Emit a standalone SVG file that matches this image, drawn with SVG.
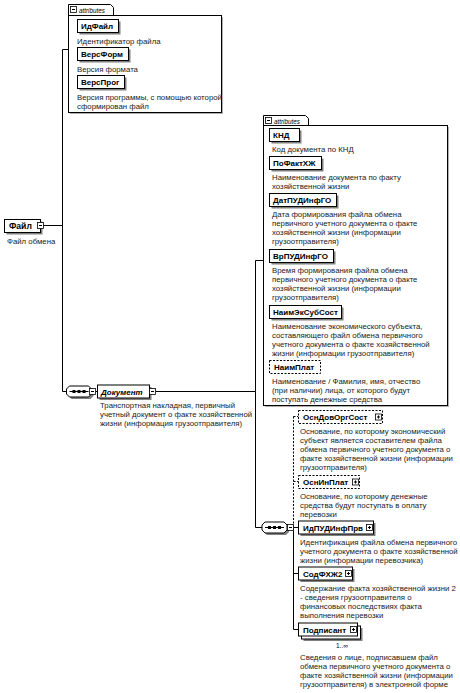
<svg xmlns="http://www.w3.org/2000/svg" width="460" height="693" viewBox="0 0 460 693">
<defs>
<style>
.d{font-family:"Liberation Sans",Arial,sans-serif;font-size:7.8px;fill:#222}
.b{font-family:"Liberation Sans",Arial,sans-serif;font-size:8px;font-weight:bold;fill:#000}
.bi{font-family:"Liberation Sans",Arial,sans-serif;font-size:8px;font-weight:bold;font-style:italic;fill:#000}
.t{font-family:"Liberation Sans",Arial,sans-serif;font-size:6.3px;font-style:italic;fill:#000}
.m{font-family:"Liberation Sans",Arial,sans-serif;font-size:6.5px;fill:#000}
.box{fill:#fff;stroke:#000;stroke-width:1}
.dbox{fill:#fff;stroke:#000;stroke-width:1;stroke-dasharray:2 1.5}
.sh{fill:#808080}
.ash{fill:#b0b0b0}
.ln{fill:none;stroke:#000;stroke-width:1}
.dl{fill:none;stroke:#000;stroke-width:1;stroke-dasharray:2 1.5}
.ic{fill:#fff;stroke:#000;stroke-width:0.8}
</style>
<g id="minus"><rect class="ic" x="0" y="0" width="6" height="6"/><path class="ln" stroke-width="0.8" d="M1.5,3H4.5"/></g>
<g id="plus"><rect class="ic" x="0" y="0" width="6" height="6"/><path class="ln" stroke-width="0.8" d="M1.5,3H4.5M3,1.5V4.5"/></g>
<g id="seq"><path class="sh" d="M5,2H24L27,5V10L24,13H5L2,10V5Z"/><path class="box" d="M3,0H22L25,3V8L22,11H3L0,8V3Z"/><path class="ln" d="M3,5.5H22"/><rect x="6" y="4" width="3" height="3" fill="#000"/><rect x="11" y="4" width="3" height="3" fill="#000"/><rect x="16" y="4" width="3" height="3" fill="#000"/></g>
</defs>
<rect width="460" height="693" fill="#fff"/>

<g id="connectors">
<path class="ln" d="M42.5,225.5H62.5M62.5,49.5H68.5M62.5,49.5V391.5H67"/>
<path class="ln" d="M95.5,391.5H97.5"/>
<path class="ln" d="M155.5,391.5H255.5V260.5H263.5M255.5,391.5V527.5H262"/>
<path class="dl" d="M293.5,416.5V527M293.5,416.5H298.5M293.5,481.5H298.5"/>
<path class="ln" d="M293.5,527V629.5M293.5,527.5H298.5M293.5,573.5H298.5M293.5,629.5H298.5"/>
</g>

<g id="node-fajl">
<rect class="sh" x="6.5" y="221.5" width="36" height="13"/>
<rect class="box" x="4.5" y="219.5" width="36" height="13"/>
<text class="b" x="9" y="229" style="font-size:8.6px">Файл</text>
<use href="#minus" x="37.5" y="222.5"/>
<text class="d" x="7" y="244">Файл обмена</text>
</g>

<g id="attrs-fajl">
<rect class="ash" x="70" y="17" width="153" height="97"/>
<path fill="#fff" stroke="#000" d="M68.5,15.5V4.5H110.5L113.5,7.5V15.5"/>
<rect class="box" x="68.5" y="15.5" width="153" height="97"/>
<use href="#minus" x="70.5" y="6.5"/>
<text class="t" x="79" y="13">attributes</text>
<g id="attr-IdFajl">
<rect class="sh" x="79.5" y="21.5" width="41" height="13"/><rect class="box" x="77.5" y="19.5" width="41" height="13"/>
<text class="b" x="81" y="29.2">ИдФайл</text>
<text class="d" x="77" y="44">Идентификатор файла</text>
</g>
<g id="attr-VersForm">
<rect class="sh" x="79.5" y="49.5" width="51" height="13"/><rect class="box" x="77.5" y="47.5" width="51" height="13"/>
<text class="b" x="81" y="57.2">ВерсФорм</text>
<text class="d" x="77" y="72">Версия формата</text>
</g>
<g id="attr-VersProg">
<rect class="sh" x="79.5" y="77.5" width="47" height="13"/><rect class="box" x="77.5" y="75.5" width="47" height="13"/>
<text class="b" x="81" y="85.2">ВерсПрог</text>
<text class="d" x="77" y="100">Версия программы, с помощью которой</text>
<text class="d" x="77" y="109">сформирован файл</text>
</g>
</g>

<g id="seq-fajl"><use href="#seq" x="66.5" y="386"/><use href="#minus" x="89.5" y="388.5"/></g>

<g id="node-dokument">
<rect class="sh" x="99.5" y="387" width="52" height="13"/>
<rect class="box" x="97.5" y="385" width="52" height="13"/>
<text class="bi" x="101" y="394.7">Документ</text>
<use href="#minus" x="149.5" y="388.5"/>
<text class="d" x="100" y="408">Транспортная накладная, первичный</text>
<text class="d" x="100" y="417">учетный документ о факте хозяйственной</text>
<text class="d" x="100" y="426">жизни (информация грузоотправителя)</text>
</g>

<g id="attrs-dokument">
<rect class="ash" x="265" y="127" width="184" height="280"/>
<path fill="#fff" stroke="#000" d="M263.5,125.5V115.5H305.5L308.5,118.5V125.5"/>
<rect class="box" x="263.5" y="125.5" width="184" height="280"/>
<use href="#minus" x="265.5" y="117.5"/>
<text class="t" x="274" y="124">attributes</text>
<g id="attr-KND">
<rect class="sh" x="271.5" y="130.5" width="30" height="13"/><rect class="box" x="269.5" y="128.5" width="30" height="13"/>
<text class="b" x="273" y="138.2">КНД</text>
<text class="d" x="272" y="152">Код документа по КНД</text>
</g>
<g id="attr-PoFaktXZh">
<rect class="sh" x="271.5" y="158.5" width="52" height="13"/><rect class="box" x="269.5" y="156.5" width="52" height="13"/>
<text class="b" x="273" y="166.2">ПоФактХЖ</text>
<text class="d" x="272" y="180">Наименование документа по факту</text>
<text class="d" x="272" y="189">хозяйственной жизни</text>
</g>
<g id="attr-DatPUDInfGO">
<rect class="sh" x="271.5" y="195.5" width="67" height="13"/><rect class="box" x="269.5" y="193.5" width="67" height="13"/>
<text class="b" x="273" y="203.2">ДатПУДИнфГО</text>
<text class="d" x="272" y="217">Дата формирования файла обмена</text>
<text class="d" x="272" y="226">первичного учетного документа о факте</text>
<text class="d" x="272" y="235">хозяйственной жизни (информации</text>
<text class="d" x="272" y="244">грузоотправителя)</text>
</g>
<g id="attr-VrPUDInfGO">
<rect class="sh" x="271.5" y="251.5" width="64" height="13"/><rect class="box" x="269.5" y="249.5" width="64" height="13"/>
<text class="b" x="273" y="259.2">ВрПУДИнфГО</text>
<text class="d" x="272" y="273">Время формирования файла обмена</text>
<text class="d" x="272" y="282">первичного учетного документа о факте</text>
<text class="d" x="272" y="291">хозяйственной жизни (информации</text>
<text class="d" x="272" y="300">грузоотправителя)</text>
</g>
<g id="attr-NaimEkSubSost">
<rect class="sh" x="271.5" y="307.5" width="72" height="13"/><rect class="box" x="269.5" y="305.5" width="72" height="13"/>
<text class="b" x="273" y="315.2">НаимЭкСубСост</text>
<text class="d" x="272" y="329">Наименование экономического субъекта,</text>
<text class="d" x="272" y="338">составляющего файл обмена первичного</text>
<text class="d" x="272" y="347">учетного документа о факте хозяйственной</text>
<text class="d" x="272" y="356">жизни (информации грузоотправителя)</text>
</g>
<g id="attr-NaimPlat">
<rect class="dbox" x="269.5" y="360.5" width="51" height="13"/>
<text class="b" x="274" y="370.2">НаимПлат</text>
<text class="d" x="272" y="384">Наименование / Фамилия, имя, отчество</text>
<text class="d" x="272" y="393">(при наличии) лица, от которого будут</text>
<text class="d" x="272" y="402">поступать денежные средства</text>
</g>
</g>

<g id="seq-dokument"><use href="#seq" x="262" y="522"/><use href="#minus" x="287.5" y="524.5"/></g>

<g id="node-OsnDovOrgSost">
<rect class="dbox" x="298.5" y="410.5" width="84" height="13"/>
<text class="b" x="303" y="420.2">ОснДовОргСост</text>
<use href="#plus" x="375.5" y="414"/>
<text class="d" x="300" y="434">Основание, по которому экономический</text>
<text class="d" x="300" y="443">субъект является составителем файла</text>
<text class="d" x="300" y="452">обмена первичного учетного документа о</text>
<text class="d" x="300" y="461">факте хозяйственной жизни (информации</text>
<text class="d" x="300" y="470">грузоотправителя)</text>
</g>

<g id="node-OsnInPlat">
<rect class="dbox" x="298.5" y="475.5" width="61" height="13"/>
<text class="b" x="303" y="485.2">ОснИнПлат</text>
<use href="#plus" x="352.5" y="479"/>
<text class="d" x="300" y="499">Основание, по которому денежные</text>
<text class="d" x="300" y="508">средства будут поступать в оплату</text>
<text class="d" x="300" y="517">перевозки</text>
</g>

<g id="node-IdPUDInfPrv">
<rect class="sh" x="300.5" y="523" width="75" height="13"/>
<rect class="box" x="298.5" y="521" width="75" height="13"/>
<text class="b" x="303" y="530.7">ИдПУДИнфПрв</text>
<use href="#plus" x="366.5" y="524.5"/>
<text class="d" x="300" y="545">Идентификация файла обмена первичного</text>
<text class="d" x="300" y="554">учетного документа о факте хозяйственной</text>
<text class="d" x="300" y="563">жизни (информации перевозчика)</text>
</g>

<g id="node-SodFXZh2">
<rect class="sh" x="300.5" y="569" width="54" height="13"/>
<rect class="box" x="298.5" y="567" width="54" height="13"/>
<text class="b" x="303" y="576.7">СодФХЖ2</text>
<use href="#plus" x="345.5" y="570.5"/>
<text class="d" x="300" y="591">Содержание факта хозяйственной жизни 2</text>
<text class="d" x="300" y="600">- сведения грузоотправителя о</text>
<text class="d" x="300" y="609">финансовых последствиях факта</text>
<text class="d" x="300" y="618">выполнения перевозки</text>
</g>

<g id="node-Podpisant">
<rect class="sh" x="303.5" y="628" width="59" height="13"/>
<rect class="box" x="301.5" y="626" width="59" height="13"/>
<rect class="box" x="298.5" y="623" width="59" height="13"/>
<text class="b" x="303" y="632.7">Подписант</text>
<use href="#plus" x="350.5" y="626.5"/>
<text class="m" x="336" y="648">1..∞</text>
<text class="d" x="300" y="660">Сведения о лице, подписавшем файл</text>
<text class="d" x="300" y="669">обмена первичного учетного документа о</text>
<text class="d" x="300" y="678">факте хозяйственной жизни (информации</text>
<text class="d" x="300" y="687">грузоотправителя) в электронной форме</text>
</g>
</svg>
